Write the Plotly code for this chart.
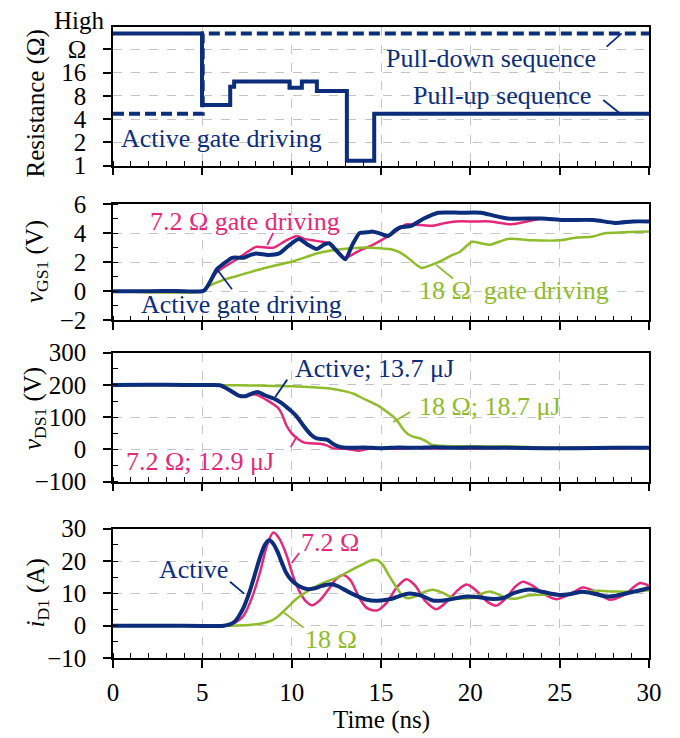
import numpy as np
import plotly.graph_objects as go
from plotly.subplots import make_subplots

NAVY = '#0b2d7c'
PINK = '#e6287a'
GREEN = '#8fbc2b'
FONT = 'Liberation Serif'

# ---------------- Panel 1: gate resistance sequence ----------------
HIGH_OHM = 51.0  # plotted level standing for "High Ω"
pu_t = [0, 4.98, 6.56, 6.78, 9.88, 10.57, 11.41, 13.09, 14.62, 30]
pu_r = [HIGH_OHM, 6.1, 10.5, 12.2, 10.2, 12.2, 9.2, 1.16, 4.7, 4.7]
pd_t = [0, 5.02, 30]
pd_r = [4.7, HIGH_OHM, HIGH_OHM]
r_tickvals = [1, 2, 4, 8, 16, 32]
r_ticktext = ['1', '2', '4', '8', '16', 'Ω']

# ---------------- Panel 2: vGS1 ----------------
vgs_act_t = [0, 2, 3.5, 5.0, 5.15, 5.5, 5.8, 6.2, 6.67, 7.3, 7.7, 8.0, 8.7, 9.3, 9.8, 10.4, 10.9, 11.4, 11.8,
             12.1, 12.5, 13.0, 13.4, 13.8, 14.2, 14.55, 15.0, 15.4, 15.8, 16.1, 16.7, 17.4, 18.2, 19.4, 20.6,
             21.3, 22.1, 24.0, 25.2, 26.9, 28.1, 29.1, 30]
vgs_act_v = [0, 0, 0.02, 0, 0.1, 0.8, 1.5, 1.9, 2.3, 2.3, 2.5, 2.6, 2.5, 2.6, 3.1, 3.6, 3.2, 2.9, 3.2,
             3.3, 2.8, 2.2, 3.2, 4.0, 4.05, 4.1, 3.95, 3.8, 4.2, 4.4, 4.5, 5.0, 5.4, 5.4, 5.4,
             5.2, 5.0, 5.0, 4.9, 4.9, 4.7, 4.8, 4.8]
vgs_72_t = [0, 5.0, 5.15, 5.8, 6.8, 7.4, 8.0, 8.6, 9.0, 9.7, 10.3, 10.7, 11.2, 11.7, 12.1, 12.6, 13.0, 13.8,
            14.4, 15.0, 15.7, 16.4, 17.2, 17.9, 18.6, 19.2, 20.2, 21.1, 22.3, 23.2, 24.0, 25.2, 26.9, 28.1,
            29.1, 30]
vgs_72_v = [0, 0, 0.1, 1.3, 2.1, 2.6, 3.05, 3.0, 3.0, 3.5, 3.8, 3.6, 3.5, 3.4, 3.3, 2.7, 2.3, 2.8,
            3.1, 3.5, 4.0, 4.6, 4.55, 4.5, 4.7, 4.8, 4.8, 4.8, 4.6, 4.8, 5.0, 4.9, 4.9, 4.7,
            4.8, 4.8]
vgs_18_t = [0, 5.0, 5.3, 6.0, 6.8, 7.5, 8.2, 9.2, 10.2, 10.8, 11.4, 12.2, 12.9, 14.1, 15.0, 15.5, 16.0, 16.5,
            17.0, 17.3, 17.8, 18.4, 19.0, 19.4, 20.1, 20.6, 21.1, 22.1, 23.5, 25.0, 25.95, 26.8, 27.6, 28.5, 30]
vgs_18_v = [0, 0, 0.3, 0.7, 1.0, 1.25, 1.5, 1.8, 2.1, 2.35, 2.6, 2.8, 2.9, 3.0, 2.95, 2.9, 2.7, 2.3,
            1.8, 1.6, 1.8, 2.1, 2.5, 2.7, 3.4, 3.3, 3.2, 3.6, 3.5, 3.5, 3.7, 3.75, 4.0, 4.05, 4.1]

# ---------------- Panel 3: vDS1 ----------------
vds_act_t = [0, 2, 4, 5.5, 6.0, 6.5, 7.0, 7.4, 7.8, 8.1, 8.5, 9.0, 9.4, 9.7, 10.0, 10.3, 10.6, 10.85, 11.1,
             11.4, 11.7, 12.0, 12.3, 12.7, 13.2, 14, 15, 16, 17, 18, 19, 20, 22, 24, 26, 28, 30]
vds_act_v = [200, 201, 200, 200, 199, 185, 168, 165, 174, 178, 168, 158, 145, 132, 118, 101, 78, 60, 45,
             34, 32, 30, 18, 8, 5, 6, 4, 6, 5, 7, 5, 6, 5, 4, 4, 5, 5]
vds_72_t = [0, 5.5, 6.0, 6.5, 7.0, 7.4, 7.8, 8.0, 8.7, 9.2, 9.45, 9.7, 10.0, 10.3, 10.67, 11.0, 11.6, 12.0,
            12.3, 13.0, 13.8, 14.3, 15, 16, 17, 18, 19, 20, 22, 24, 26, 28, 30]
vds_72_v = [200, 200, 199, 183, 167, 165, 170, 170, 150, 131, 110, 75, 50, 35, 22, 19, 18, 12,
            4, 2, -4, 2, 4, 2, 5, 3, 5, 3, 5, 3, 5, 4, 5]
vds_18_t = [0, 5.5, 6.0, 7, 8, 9, 10.1, 11.2, 12.15, 13.0, 13.5, 14.0, 14.5, 14.95, 15.3, 15.7, 16.0, 16.25,
            16.5, 16.8, 17.2, 17.56, 17.8, 18.1, 19, 20, 21, 22, 23, 24, 25, 27, 30]
vds_18_v = [200, 200, 199, 199, 198, 197, 196, 193, 189, 180, 172, 158, 145, 132, 118, 101, 82, 62,
            48, 40, 34, 24, 16, 12, 10, 10, 9, 10, 8, 6, 5, 5, 5]

# ---------------- Panel 4: iD1 ----------------
id_act_t = [0, 3, 5, 6.2, 6.5, 6.8, 7.05, 7.3, 7.55, 7.76, 8.0, 8.25, 8.5, 8.73, 8.95, 9.2, 9.45, 9.7, 10.0,
            10.4, 10.9, 11.3, 11.7, 12.2, 12.6, 13.0, 13.6, 14.2, 14.8, 15.5, 16.5, 17.2, 17.9, 18.5, 19.8,
            20.5, 21.1, 21.8, 22.5, 23.3, 24.0, 25.0, 25.6, 26.3, 27.0, 27.7, 28.4, 29.2, 30]
id_act_a = [0, 0, -0.1, 0, 0.3, 1.2, 3, 5.5, 9, 12.5, 17, 21.5, 25, 26.4, 25.5, 23, 19.5, 16.3, 14,
            12.3, 11.3, 11.6, 12.3, 12.8, 12.2, 11, 9.3, 8.0, 7.7, 8.2, 9.9, 9.4, 7.8, 7.8, 9.0,
            8.8, 8.3, 8.5, 10.2, 11.2, 10.5, 9.5, 9.8, 10.5, 9.8, 9.0, 9.6, 10.6, 11.7]
id_72_t = [0, 5, 6.3, 6.7, 7.0, 7.3, 7.8, 8.25, 8.6, 8.97, 9.3, 9.7, 10.1, 10.4, 10.8, 11.15, 11.6, 12.1,
           12.5, 12.9, 13.3, 13.8, 14.2, 14.76, 15.3, 15.9, 16.43, 16.9, 17.5, 18.1, 18.7, 19.3, 19.8,
           20.4, 21.0, 21.46, 22.0, 22.5, 22.95, 23.5, 24.2, 24.8, 25.5, 26.3, 27.0, 27.8, 28.6, 29.5, 30]
id_72_a = [0, 0, 0, 0.6, 1.5, 3, 9, 17, 24.5, 28.8, 27, 22, 15, 11, 7.5, 6.3, 8, 11.5,
           14.5, 15.7, 14, 8.5, 5.5, 4.7, 7, 12, 14.4, 12.5, 7.5, 5.1, 7.5, 11, 12.7,
           10.5, 7.2, 6.2, 8.5, 12, 13.6, 12.3, 9.5, 8.2, 9.5, 11.8, 10.5, 8.0, 9.5, 13.2, 12.3]
id_18_t = [0, 6, 7, 7.76, 8.3, 8.7, 9.1, 9.46, 9.8, 10.2, 10.7, 11.15, 11.8, 12.6, 13.2, 13.8, 14.2, 14.57,
           14.85, 15.1, 15.5, 15.9, 16.2, 16.5, 17.0, 17.5, 17.9, 18.4, 19.0, 19.6, 20.15, 20.6, 21.1,
           21.6, 22.0, 22.6, 23.3, 24.2, 25.2, 26.0, 27.0, 28, 28.9, 30]
id_18_a = [0, 0, 0.05, 0.3, 0.7, 1.2, 2.3, 4, 5.8, 8, 10, 11.5, 13.3, 15, 16.8, 18.5, 19.6, 20.4,
           20.1, 18.8, 15, 11.6, 9.3, 8.5, 9.2, 10.6, 11.1, 10.3, 8.7, 8.4, 8.6, 9.8, 10.6,
           9.6, 8.6, 8.4, 9.4, 9.6, 9.6, 10.2, 10.8, 10.6, 10.5, 11]

# ---------------- figure ----------------
W, H = 680, 738
ML, MR, MT, MB = 113, 31, 27, 80
PW, PH = W - ML - MR, H - MT - MB


def py(p):  # pixel row -> paper y
    return (H - MB - p) / PH


def px(p):  # pixel column -> paper x
    return (p - ML) / PW


def clamp(v):
    return max(0.0, min(1.0, v))


doms = [(py(165.7), py(27.3)), (py(320.3), py(204)), (py(481.7), py(352.7)), (py(658), py(528.7))]
doms = [[clamp(a), clamp(b)] for a, b in doms]

fig = make_subplots(rows=4, cols=1)

# panel 1
fig.add_trace(go.Scatter(x=pd_t, y=np.log2(pd_r), mode='lines', line_shape='hv',
                         line=dict(color=NAVY, width=4, dash='11px,5px')), row=1, col=1)
fig.add_trace(go.Scatter(x=pu_t, y=np.log2(pu_r), mode='lines', line_shape='hv',
                         line=dict(color=NAVY, width=4)), row=1, col=1)
# panel 2
for t, v, c, w in [(vgs_72_t, vgs_72_v, PINK, 2.5), (vgs_18_t, vgs_18_v, GREEN, 2.5), (vgs_act_t, vgs_act_v, NAVY, 4)]:
    fig.add_trace(go.Scatter(x=t, y=v, mode='lines', line=dict(color=c, width=w, shape='spline', smoothing=0.6)), row=2, col=1)
# panel 3
for t, v, c, w in [(vds_72_t, vds_72_v, PINK, 2.5), (vds_18_t, vds_18_v, GREEN, 2.5), (vds_act_t, vds_act_v, NAVY, 4)]:
    fig.add_trace(go.Scatter(x=t, y=v, mode='lines', line=dict(color=c, width=w, shape='spline', smoothing=0.6)), row=3, col=1)
# panel 4
for t, v, c, w in [(id_72_t, id_72_a, PINK, 2.5), (id_18_t, id_18_a, GREEN, 2.5), (id_act_t, id_act_a, NAVY, 4)]:
    fig.add_trace(go.Scatter(x=t, y=v, mode='lines', line=dict(color=c, width=w, shape='spline', smoothing=0.8)), row=4, col=1)

tickfont = dict(family=FONT, size=25, color='black')
xcommon = dict(range=[0, 30], tickmode='linear', tick0=0, dtick=5, ticks='outside', ticklen=8, tickwidth=1.5,
               tickcolor='black', showline=True, linecolor='black', linewidth=1.5, mirror=True,
               showgrid=True, gridcolor='#c4c4c4', griddash='dash', gridwidth=1, zeroline=False,
               tickfont=tickfont, ticklabelstandoff=3,
               minor=dict(tickmode='linear', tick0=0, dtick=1, ticks='inside', ticklen=5, tickwidth=1.2,
                          tickcolor='black', showgrid=False))
ycommon = dict(ticks='outside', ticklen=8, tickwidth=1.5, tickcolor='black', showline=True, linecolor='black',
               linewidth=1.5, mirror=True, showgrid=True, gridcolor='#c4c4c4', griddash='dash', gridwidth=1,
               zeroline=False, tickfont=tickfont, ticklabelstandoff=12)

for i in range(4):
    xa = dict(xcommon)
    xa['domain'] = [0, 1]
    xa['showticklabels'] = (i == 3)
    fig.layout['xaxis' + ('' if i == 0 else str(i + 1))].update(xa)

fig.layout.yaxis.update(ycommon, domain=doms[0], range=[0, 5.94], tickmode='array',
                        tickvals=np.log2(r_tickvals), ticktext=r_ticktext)
fig.layout.yaxis2.update(ycommon, domain=doms[1], range=[-2, 6], tickmode='linear', tick0=-2, dtick=2,
                         minor=dict(tickmode='linear', tick0=-2, dtick=1, ticks='inside', ticklen=5, tickwidth=1.2,
                                    tickcolor='black', showgrid=False))
fig.layout.yaxis3.update(ycommon, domain=doms[2], range=[-100, 300], tickmode='linear', tick0=-100, dtick=100,
                         minor=dict(tickmode='linear', tick0=-100, dtick=50, ticks='inside', ticklen=5, tickwidth=1.2,
                                    tickcolor='black', showgrid=False))
fig.layout.yaxis4.update(ycommon, domain=doms[3], range=[-10, 30], tickmode='linear', tick0=-10, dtick=10,
                         minor=dict(tickmode='linear', tick0=-10, dtick=5, ticks='inside', ticklen=5, tickwidth=1.2,
                                    tickcolor='black', showgrid=False))

AF = 26
annos = []
shapes = []


def label(text, x, y, color, ax='x', size=AF):
    annos.append(dict(text=text, x=x, y=y, xref=ax, yref=ax.replace('x', 'y'), showarrow=False,
                      font=dict(family=FONT, size=size, color=color), xanchor='center', yanchor='middle'))


def leader(x0, y0, x1, y1, color, ax='x'):
    shapes.append(dict(type='line', x0=x0, y0=y0, x1=x1, y1=y1, xref=ax, yref=ax.replace('x', 'y'),
                       line=dict(color=color, width=1.8)))


# panel 1 texts (y in log2 units)
label('Pull-down sequence', 21.16, 4.58, NAVY, 'x')
leader(27.63, 5.11, 28.47, 5.68, NAVY, 'x')
label('Pull-up sequence', 21.77, 3.03, NAVY, 'x')
leader(27.44, 2.82, 28.37, 2.25, NAVY, 'x')
label('Active gate driving', 6.1, 1.18, NAVY, 'x')
# panel 2
label('7.2 Ω gate driving', 7.4, 4.77, PINK, 'x2')
leader(8.97, 4.01, 8.63, 3.18, PINK, 'x2')
label('Active gate driving', 7.17, -0.94, NAVY, 'x2')
leader(6.66, 0.14, 5.82, 1.51, NAVY, 'x2')
label('18 Ω\u00a0\u00a0gate driving', 22.44, 0.02, GREEN, 'x2')
leader(18.08, 1.81, 19.03, 0.88, GREEN, 'x2')
# panel 3
label('Active; 13.7 μJ', 14.61, 250.5, NAVY, 'x3')
leader(9.75, 216.5, 9.08, 162.7, NAVY, 'x3')
label('18 Ω; 18.7 μJ', 21.1, 131.8, GREEN, 'x3')
leader(16.63, 116.3, 15.69, 85.4, GREEN, 'x3')
label('7.2 Ω; 12.9 μJ', 4.88, -38.4, PINK, 'x3')
leader(9.95, 7.1, 10.29, 41.1, PINK, 'x3')
# panel 4
label('7.2 Ω', 12.15, 25.6, PINK, 'x4')
leader(10.42, 22.5, 10.0, 19.4, PINK, 'x4')
label('Active', 4.49, 17.3, NAVY, 'x4')
leader(6.55, 13.6, 7.34, 9.9, NAVY, 'x4')
label('18 Ω', 12.2, -4.3, GREEN, 'x4')
leader(9.58, 4.0, 10.67, -0.6, GREEN, 'x4')

# axis titles
tf = dict(family=FONT, size=25, color='black')
for text, xp, yp in [('Resistance (Ω)', 35, 103.5),
                     ('<i>v</i><sub>GS1</sub> (V)', 36, 262),
                     ('<i>v</i><sub>DS1</sub> (V)', 34, 409),
                     ('<i>i</i><sub>D1</sub> (A)', 37, 593.5)]:
    annos.append(dict(text=text, x=px(xp), y=py(yp), xref='paper', yref='paper', showarrow=False,
                      textangle=-90, font=tf, xanchor='center', yanchor='middle'))
annos.append(dict(text='High', x=px(79), y=py(20), xref='paper', yref='paper', showarrow=False,
                  font=dict(family=FONT, size=25, color='black'), xanchor='center', yanchor='middle'))
annos.append(dict(text='Time (ns)', x=0.5, y=py(720), xref='paper', yref='paper', showarrow=False,
                  font=tf, xanchor='center', yanchor='middle'))

fig.update_layout(width=W, height=H, margin=dict(l=ML, r=MR, t=MT, b=MB), showlegend=False,
                  plot_bgcolor='white', paper_bgcolor='white', annotations=annos, shapes=shapes,
                  font=dict(family=FONT, color='black'))

fig.write_html('out.html')
